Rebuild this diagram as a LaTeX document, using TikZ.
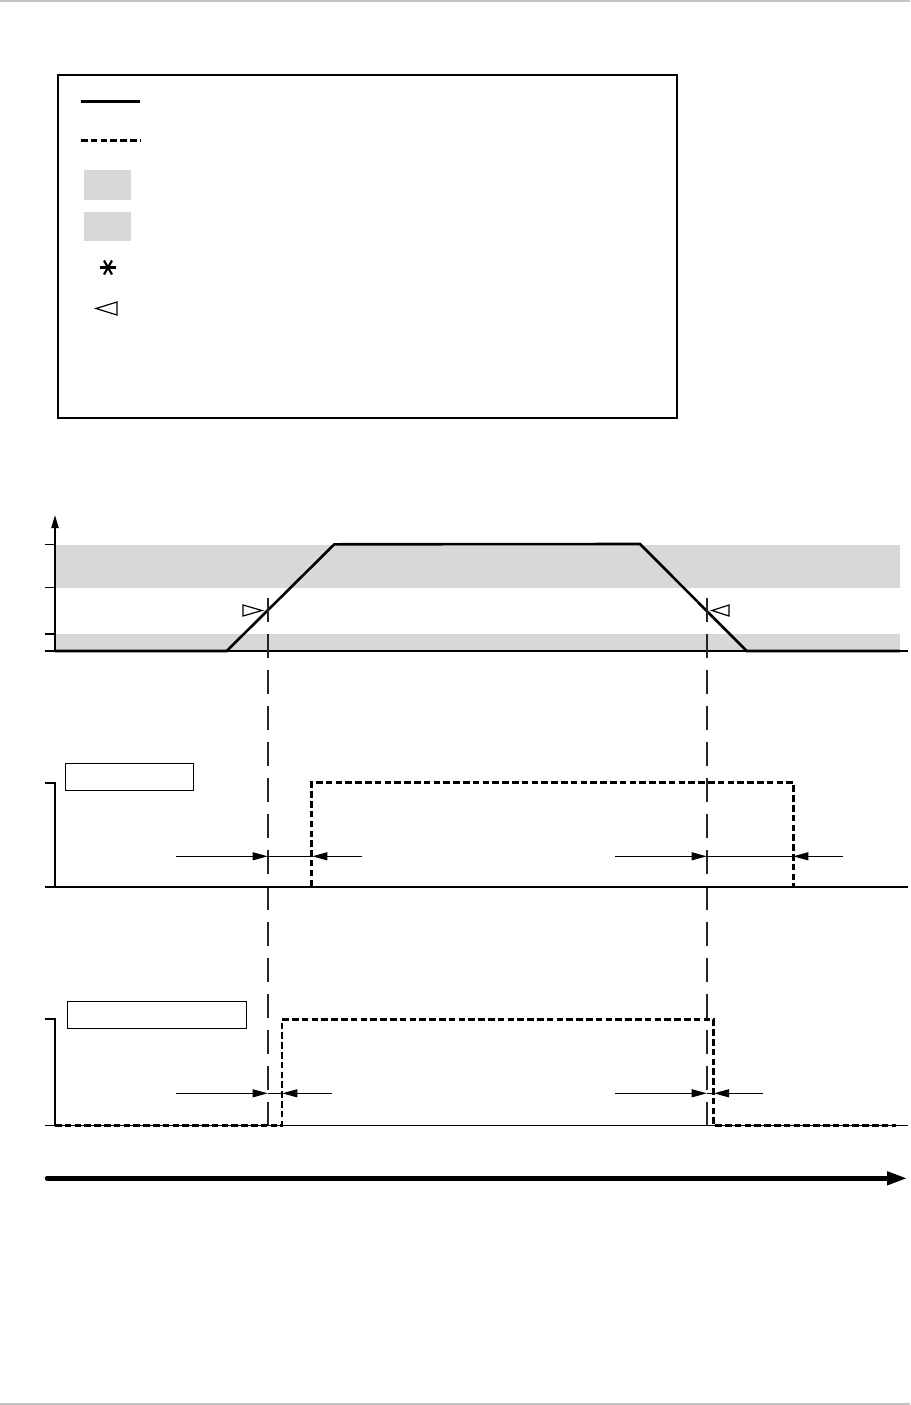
\documentclass[tikz,border=0pt]{standalone}
\usetikzlibrary{arrows.meta}
\definecolor{band}{HTML}{D8D8D8}
\definecolor{rule}{HTML}{C4C4C4}
\tikzset{
  curve/.style={line width=2.6pt, line join=miter},
  sig/.style={line width=2.5pt, dash pattern=on 6.5pt off 3.3pt},
  guide/.style={line width=1.8pt, dash pattern=on 24pt off 12pt, color=black!85},
  dimarrow/.style={line width=1pt, -{Triangle[length=15pt,width=8pt]}},
  dimline/.style={line width=1pt},
  axis/.style={line width=2pt},
  labelbox/.style={draw, line width=1.1pt},
  marker/.style={draw, line width=1.2pt, fill=white, line join=miter}
}
\begin{document}
\begin{tikzpicture}[x=1pt,y=-1pt]
\useasboundingbox (0,0) rectangle (910,1405);
% page rules
\draw[rule, line width=2pt] (0,1) -- (910,1);
\draw[rule, line width=2pt] (0,1404) -- (910,1404);

% legend
\draw[line width=1.2pt] (58,75) rectangle (677,418);
\draw[line width=2.6pt] (81,101.5) -- (140,101.5);
\draw[sig] (81,140.5) -- (141,140.5);
\fill[band] (84,170) rectangle (131,200);
\fill[band] (84,212) rectangle (131,241);
\coordinate (ast) at (108,267.5);
\draw[line width=2.2pt] ([shift={(-8,0)}]ast) -- ([shift={(8,0)}]ast);
\draw[line width=2.2pt] ([shift={(-4,-7)}]ast) -- ([shift={(4,7)}]ast);
\draw[line width=2.2pt] ([shift={(4,-7)}]ast) -- ([shift={(-4,7)}]ast);
\draw[marker] (117,302) -- (96,308.5) -- (117,315) -- cycle;

% chart 1
\fill[band] (55,544.5) rectangle (900,587.5);
\fill[band] (55,634) rectangle (900,651);
\draw[axis, -{Triangle[length=13pt,width=7pt]}] (55,651) -- (55,515);
\foreach \yy in {544.5,587.5,634} \draw[line width=1.2pt] (45,\yy) -- (55,\yy);
\draw[axis] (45,651) -- (908,651);
\draw[curve] (55,651) -- (226.7,651) -- (334.3,544.3) -- (640,544) -- (746.7,651) -- (900,651);
\draw[marker] (243,605) -- (262,610.5) -- (243,616) -- cycle;
\draw[marker] (729,605) -- (712,610.5) -- (729,616) -- cycle;

% guides
\coordinate (g1t) at (267.7,598);
\coordinate (g1b) at (267.7,1126);
\coordinate (g2t) at (706.7,598);
\coordinate (g2b) at (706.7,1126);
\draw[guide] (g1t) -- (g1b);
\draw[guide] (g2t) -- (g2b);

% chart 2
\draw[axis] (45,782.5) -- (55,782.5) -- (55,887);
\draw[axis] (45,887) -- (908,887);
\draw[labelbox] (65.3,763.3) rectangle (193.3,790.3);
\draw[sig] (311.7,886) -- (311.7,782.5) -- (793.3,782.5) -- (793.3,886);
\coordinate (a1) at (176,856.3);
\coordinate (a2) at (267.7,856.3);
\coordinate (a3) at (312.3,856.3);
\coordinate (a4) at (362,856.3);
\draw[dimarrow] (a1) -- (a2);
\draw[dimline] (a2) -- (a3);
\draw[dimarrow] (a4) -- (a3);
\coordinate (b1) at (615,856.3);
\coordinate (b2) at (706.7,856.3);
\coordinate (b3) at (793.3,856.3);
\coordinate (b4) at (842.7,856.3);
\draw[dimarrow] (b1) -- (b2);
\draw[dimline] (b2) -- (b3);
\draw[dimarrow] (b4) -- (b3);

% chart 3
\draw[axis] (45,1019) -- (55,1019) -- (55,1125);
\draw[line width=1pt] (45,1125) -- (908,1125);
\draw[labelbox] (67.3,1001.7) rectangle (246.3,1028.3);
\draw[sig] (55,1125.5) -- (282,1125.5) -- (282,1019.5) -- (713.5,1019.5) -- (713.5,1125.5) -- (896,1125.5);
\coordinate (c1) at (176,1093.3);
\coordinate (c2) at (267.7,1093.3);
\coordinate (c3) at (282.3,1093.3);
\coordinate (c4) at (331.7,1093.3);
\draw[dimarrow] (c1) -- (c2);
\draw[dimline] (c2) -- (c3);
\draw[dimarrow] (c4) -- (c3);
\coordinate (d1) at (615,1093.3);
\coordinate (d2) at (706.7,1093.3);
\coordinate (d3) at (714,1093.3);
\coordinate (d4) at (763.3,1093.3);
\draw[dimarrow] (d1) -- (d2);
\draw[dimline] (d2) -- (d3);
\draw[dimarrow] (d4) -- (d3);

% time axis
\coordinate (t0) at (47,1178.3);
\coordinate (t1) at (907,1178.3);
\draw[line width=4.4pt, line cap=round, -{Triangle[length=20pt,width=13pt]}] (t0) -- (t1);
\end{tikzpicture}
\end{document}
